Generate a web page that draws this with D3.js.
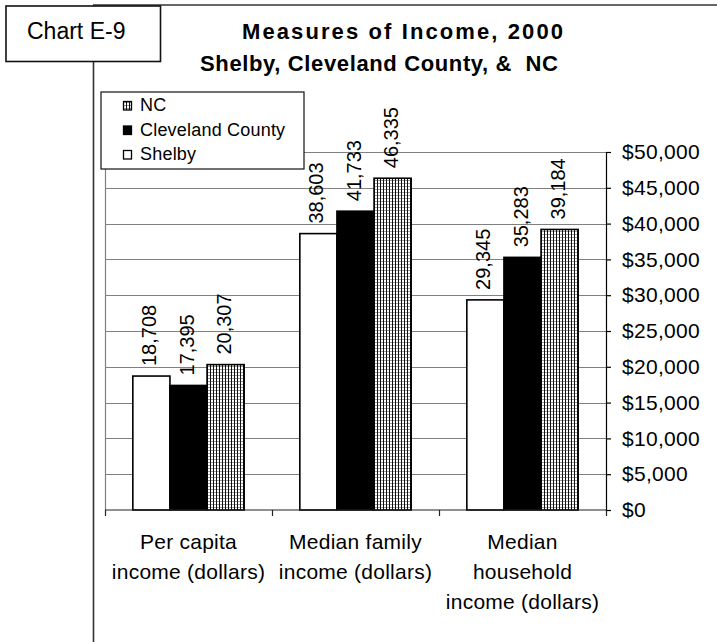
<!DOCTYPE html>
<html>
<head>
<meta charset="utf-8">
<script src="https://cdn.jsdelivr.net/npm/d3@7"></script>
<style>
  html, body { margin: 0; padding: 0; background: #fff; }
  svg { display: block; font-family: Arial, "Liberation Sans", sans-serif; }
</style>
</head>
<body>
<svg id="chart" width="717" height="642"></svg>
<script>
// Income measures, 2000
const categories = ["Per capita income (dollars)", "Median family income (dollars)", "Median household income (dollars)"];
const categoryLines = [
  ["Per capita", "income (dollars)"],
  ["Median family", "income (dollars)"],
  ["Median", "household", "income (dollars)"]
];
const seriesNames = ["Shelby", "Cleveland County", "NC"];
const shelby = [18708, 38603, 29345];
const cleveland = [17395, 41733, 35283];
const nc = [20307, 46335, 39184];
const yTickValues = [0, 5000, 10000, 15000, 20000, 25000, 30000, 35000, 40000, 45000, 50000];
const legendOrder = ["NC", "Cleveland County", "Shelby"];

const seriesValues = { "Shelby": shelby, "Cleveland County": cleveland, "NC": nc };

const svg = d3.select("#chart");

// Pattern for the NC bars: fine grid
const defs = svg.append("defs");
const pat = defs.append("pattern")
  .attr("id", "grid")
  .attr("patternUnits", "userSpaceOnUse")
  .attr("width", 3).attr("height", 3);
pat.append("rect").attr("width", 3).attr("height", 3).attr("fill", "#fff");
pat.append("rect").attr("x", 0).attr("y", 0).attr("width", 3).attr("height", 1).attr("fill", "#9a9a9a");
pat.append("rect").attr("x", 0).attr("y", 0).attr("width", 1).attr("height", 3).attr("fill", "#111");

const fills = { "Shelby": "#fff", "Cleveland County": "#000", "NC": "url(#grid)" };

// Outer frame
svg.append("line").attr("x1", 93).attr("y1", 5).attr("x2", 717).attr("y2", 5)
  .attr("stroke", "#333").attr("stroke-width", 1.6);
svg.append("line").attr("x1", 93.5).attr("y1", 5).attr("x2", 93.5).attr("y2", 642)
  .attr("stroke", "#333").attr("stroke-width", 1.6);

// Chart label box
svg.append("rect").attr("x", 6).attr("y", 6).attr("width", 154.5).attr("height", 55.5)
  .attr("fill", "#fff").attr("stroke", "#111").attr("stroke-width", 1.6);
svg.append("text").attr("x", 27).attr("y", 39)
  .attr("font-size", 23).attr("fill", "#000").text("Chart E-9");

// Title
svg.append("text").attr("x", 242).attr("y", 39)
  .attr("font-size", 22).attr("font-weight", "bold")
  .attr("textLength", 321).attr("lengthAdjust", "spacing")
  .text("Measures of Income, 2000");
svg.append("text").attr("x", 200).attr("y", 71)
  .attr("font-size", 22).attr("font-weight", "bold")
  .style("white-space", "pre")
  .attr("textLength", 358).attr("lengthAdjust", "spacing")
  .text("Shelby, Cleveland County, &  NC");

// Plot area
const plot = { left: 105, right: 606, top: 152, bottom: 510 };

const x0 = d3.scaleBand().domain(categories).range([plot.left, plot.right]).padding(0);
const x1 = d3.scaleBand().domain(seriesNames).range([0, x0.bandwidth()])
  .paddingInner(0).paddingOuter(0.75);
const y = d3.scaleLinear().domain([0, 50000]).range([plot.bottom, plot.top]);

// Gridlines
svg.append("g").selectAll("line").data(yTickValues.filter(d => d > 0)).join("line")
  .attr("x1", plot.left).attr("x2", plot.right)
  .attr("y1", d => Math.round(y(d)) + 0.5).attr("y2", d => Math.round(y(d)) + 0.5)
  .attr("stroke", "#808080").attr("stroke-width", 1.2);

// Left plot edge
svg.append("line").attr("x1", plot.left + 0.5).attr("x2", plot.left + 0.5)
  .attr("y1", plot.top).attr("y2", plot.bottom)
  .attr("stroke", "#808080").attr("stroke-width", 1.2);

// Bars
const groups = svg.append("g").selectAll("g").data(categories).join("g")
  .attr("transform", d => `translate(${x0(d)},0)`);

groups.selectAll("rect").data((c, i) => seriesNames.map(s => ({ s, v: seriesValues[s][i] })))
  .join("rect")
  .attr("x", d => x1(d.s))
  .attr("y", d => y(d.v))
  .attr("width", x1.bandwidth())
  .attr("height", d => y(0) - y(d.v))
  .attr("fill", d => fills[d.s])
  .attr("stroke", "#000").attr("stroke-width", 1.6);

// Value labels (rotated)
const fmt = d3.format(",");
groups.selectAll("text.val").data((c, i) => seriesNames.map(s => ({ s, v: seriesValues[s][i] })))
  .join("text").attr("class", "val")
  .attr("transform", d => `translate(${x1(d.s) + x1.bandwidth() / 2 + 5},${y(d.v) - 10}) rotate(-90)`)
  .attr("font-size", 20).attr("fill", "#000")
  .text(d => fmt(d.v));

// Right value axis
const yAxis = d3.axisRight(y).tickValues(yTickValues).tickSize(5).tickPadding(11)
  .tickFormat(d3.format("$,"));
const gy = svg.append("g").attr("transform", `translate(${plot.right},0)`).call(yAxis);
gy.select(".domain").attr("stroke", "#000").attr("stroke-width", 1.2);
gy.selectAll(".tick line").attr("stroke", "#000").attr("stroke-width", 1.2);
gy.selectAll(".tick text").attr("font-size", 21).attr("fill", "#000")
  .attr("font-family", "Arial, 'Liberation Sans', sans-serif")
  .attr("letter-spacing", 0.3);

// Category axis
svg.append("line").attr("x1", plot.left).attr("x2", plot.right)
  .attr("y1", plot.bottom).attr("y2", plot.bottom)
  .attr("stroke", "#222").attr("stroke-width", 1.2);
const boundaries = categories.map(c => x0(c)).concat([x0.range()[1]]);
svg.append("g").selectAll("line").data(boundaries).join("line")
  .attr("x1", d => d + 0.5).attr("x2", d => d + 0.5)
  .attr("y1", plot.bottom).attr("y2", plot.bottom + 6)
  .attr("stroke", "#222").attr("stroke-width", 1.2);

const catLabels = svg.append("g").selectAll("text").data(categories).join("text")
  .attr("text-anchor", "middle").attr("font-size", 21).attr("fill", "#000")
  .attr("letter-spacing", 0.25);
catLabels.each(function (c, i) {
  const cx = x0(c) + x0.bandwidth() / 2;
  d3.select(this).selectAll("tspan").data(categoryLines[i]).join("tspan")
    .attr("x", cx).attr("y", (d, j) => 548.5 + j * 30)
    .text(d => d);
});

// Legend
const legend = svg.append("g");
legend.append("rect").attr("x", 101).attr("y", 92).attr("width", 203).attr("height", 77)
  .attr("fill", "#fff").attr("stroke", "#111").attr("stroke-width", 1.2);
const rows = legend.selectAll("g").data(legendOrder).join("g")
  .attr("transform", (d, i) => `translate(0,${111 + i * 24.5})`);
rows.append("rect").attr("x", 123.5).attr("y", -9.5).attr("width", 8).attr("height", 8.5)
  .attr("fill", d => d === "NC" ? "url(#grid)" : fills[d])
  .attr("stroke", "#000").attr("stroke-width", 1.3);
rows.append("text").attr("x", 140).attr("y", 0)
  .attr("font-size", 18).attr("fill", "#000").attr("letter-spacing", 0.2)
  .text(d => d);
</script>
</body>
</html>
